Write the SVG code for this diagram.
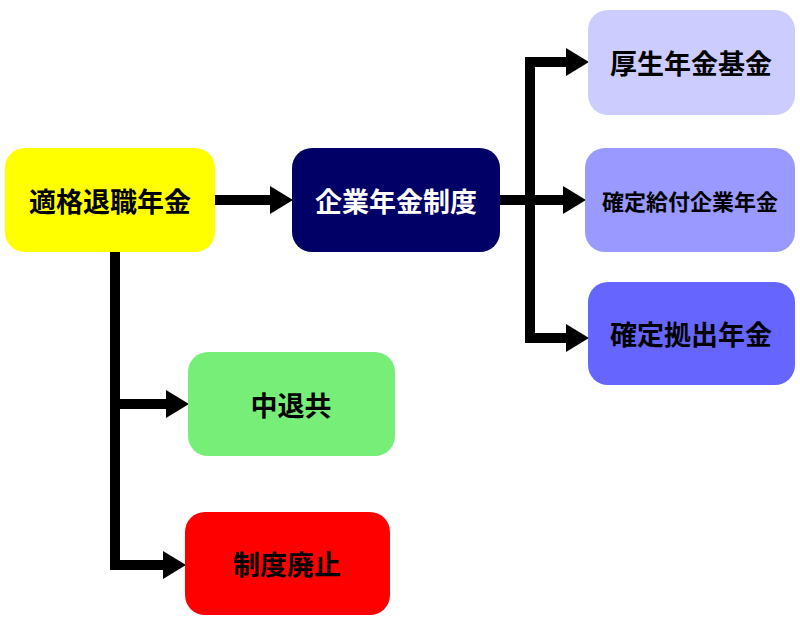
<svg xmlns="http://www.w3.org/2000/svg" width="800" height="627" viewBox="0 0 800 627">
<style>
.t{font-family:"Noto Sans CJK JP",sans-serif;font-weight:bold;font-size:27px;text-anchor:middle;dominant-baseline:central}
.l{stroke:#000;stroke-width:10;fill:none}
</style>
<rect width="800" height="627" fill="#fff"/>
<g id="connectors">
<path class="l" d="M215 200H272"/><polygon points="270,186 293,200 270,214"/>
<path class="l" d="M500 200H530M530 57V343M525 62H568M530 200H565M525 338H568"/>
<polygon points="566,48 589,62 566,76"/><polygon points="563,186 586,200 563,214"/><polygon points="566,324 589,338 566,352"/>
<path class="l" d="M115 252V570M110 404H168M110 565H165"/>
<polygon points="166,390 189,404 166,418"/><polygon points="163,551 186,565 163,579"/>
</g>
<g id="n1"><rect x="5" y="148" width="210" height="104" rx="20" fill="#ffff00"/><text class="t" x="110" y="200">適格退職年金</text></g>
<g id="n2"><rect x="292" y="148" width="208" height="104" rx="20" fill="#000066"/><text class="t" x="396" y="200" fill="#fff">企業年金制度</text></g>
<g id="n3"><rect x="588" y="10" width="207" height="105" rx="20" fill="#ccccff"/><text class="t" x="691" y="62">厚生年金基金</text></g>
<g id="n4"><rect x="585" y="148" width="210" height="104" rx="20" fill="#9999ff"/><text class="t" x="690" y="200" style="font-size:22px">確定給付企業年金</text></g>
<g id="n5"><rect x="588" y="282" width="207" height="103" rx="20" fill="#6666ff"/><text class="t" x="691" y="333">確定拠出年金</text></g>
<g id="n6"><rect x="188" y="352" width="207" height="104" rx="20" fill="#77ee77"/><text class="t" x="291" y="404">中退共</text></g>
<g id="n7"><rect x="185" y="512" width="205" height="103" rx="20" fill="#ff0000"/><text class="t" x="287" y="563">制度廃止</text></g>
</svg>
